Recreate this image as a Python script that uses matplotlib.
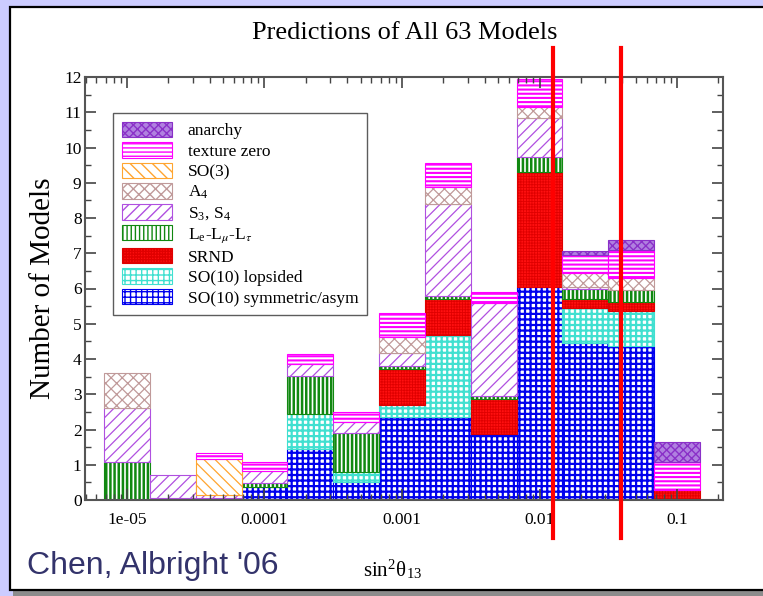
import numpy as np
import matplotlib
matplotlib.use('Agg')
import matplotlib.pyplot as plt
from matplotlib.patches import Rectangle
from matplotlib.ticker import LogLocator, NullFormatter, FixedFormatter, FixedLocator, MultipleLocator

plt.rcParams['font.family'] = ['Liberation Serif', 'DejaVu Serif']
plt.rcParams['mathtext.fontset'] = 'stix'

# bin centres of the sin^2(theta13) histogram (1/3 decade bins)
bin_centers = [1.0e-5, 2.15e-5, 4.64e-5, 1.0e-4, 2.15e-4, 4.64e-4, 1.0e-3,
               2.15e-3, 4.64e-3, 1.0e-2, 2.15e-2, 4.64e-2, 1.0e-1]

# number of models per bin, stacked bottom -> top
so10_sym = [0, 0, 0, 0.37, 1.45, 0.50, 2.36, 2.36, 1.87, 6.04, 4.45, 4.37, 0]
so10_lop = [0, 0, 0, 0, 0.99, 0.30, 0.34, 2.32, 0, 0, 1.00, 1.00, 0]
srnd     = [0, 0, 0, 0, 0, 0, 1.01, 1.02, 0.99, 3.26, 0.25, 0.25, 0.28]
lmu      = [1.08, 0.07, 0.05, 0.11, 1.09, 1.10, 0.09, 0.09, 0.09, 0.44, 0.30, 0.34, 0]
s3s4     = [1.53, 0.64, 0.10, 0.34, 0.33, 0.32, 0.36, 2.61, 2.64, 1.10, 0.04, 0, 0]
a4       = [1.00, 0, 0, 0, 0, 0, 0.47, 0.49, 0, 0.30, 0.40, 0.34, 0]
so3      = [0, 0, 1.02, 0, 0, 0, 0, 0, 0, 0, 0, 0, 0]
texture  = [0, 0, 0.16, 0.26, 0.28, 0.28, 0.67, 0.66, 0.31, 0.80, 0.50, 0.79, 0.80]
anarchy  = [0, 0, 0, 0, 0, 0, 0, 0, 0, 0, 0.13, 0.29, 0.57]

labels = ['SO(10) symmetric/asym', 'SO(10) lopsided', 'SRND',
          r'L$_\mathregular{e}$-L$_\mu$-L$_\tau$', r'S$_\mathregular{3}$, S$_\mathregular{4}$',
          r'A$_\mathregular{4}$', 'SO(3)', 'texture zero', 'anarchy']
series = [so10_sym, so10_lop, srnd, lmu, s3s4, a4, so3, texture, anarchy]

# face, hatch colour, hatch, hatch linewidth
styles = [('white', '#0000ee', '+++', 1.6),
          ('white', '#40e0d0', '+++', 1.6),
          ('#ff1010', '#e00000', '++++++', 0.6),
          ('white', '#118811', '||||', 1.8),
          ('white', '#b050e0', '///', 0.9),
          ('white', '#c09a9a', 'xxx', 0.9),
          ('white', '#ffa530', '\\\\\\', 0.9),
          ('white', '#ff00ff', '----', 1.5),
          ('#b080e0', '#8a30c8', 'xxxx', 1.0)]

xticks = [1e-5, 1e-4, 1e-3, 1e-2, 1e-1]
xtick_labels = ['1e-05', '0.0001', '0.001', '0.01', '0.1']
red_lines = [0.0125, 0.039]

fig = plt.figure(figsize=(7.63, 5.96), dpi=100)
fig.patch.set_facecolor('#ccccff')

# white slide panel with shadow
fig.patches.append(Rectangle((13/763, 0), 1, 7/596, transform=fig.transFigure,
                             facecolor='#8c8c8c', edgecolor='none', zorder=-10))
fig.patches.append(Rectangle((10/763, 6/596), 1.1, 583/596, transform=fig.transFigure,
                             facecolor='white', edgecolor='black', linewidth=1.6, zorder=-9))

ax = fig.add_axes([85/763, 96/596, 638/763, 423/596])
ax.set_facecolor('none')

c = np.array(bin_centers)
left = c / 10**(1/6)
right = c * 10**(1/6)
bottom = np.zeros(len(c))
handles = []
for vals, lab, (fc, hc, ht, hlw) in zip(series, labels, styles):
    v = np.array(vals, dtype=float)
    m = v > 0
    with plt.rc_context({'hatch.linewidth': hlw}):
        bars = ax.bar(left[m], v[m], width=(right - left)[m], bottom=bottom[m], align='edge',
                      facecolor=fc, edgecolor=hc, hatch=ht, linewidth=0.8, label=lab)
    for b in bars:
        if hasattr(b, 'set_hatch_linewidth'):
            b.set_hatch_linewidth(hlw)
    handles.append(bars)
    bottom = bottom + v

ax.set_xscale('log')
ax.set_xlim(4.95e-6, 0.216)
ax.set_ylim(0, 12)
ax.xaxis.set_major_locator(FixedLocator(xticks))
ax.xaxis.set_major_formatter(FixedFormatter(xtick_labels))
ax.xaxis.set_minor_locator(LogLocator(base=10, subs=np.arange(2, 10), numticks=20))
ax.xaxis.set_minor_formatter(NullFormatter())
ax.yaxis.set_major_locator(MultipleLocator(1))
ax.yaxis.set_minor_locator(MultipleLocator(0.5))
ax.tick_params(which='both', direction='in', top=True, right=True, color='#444444', labelsize=12.5)
ax.tick_params(which='major', length=8, width=1.2)
ax.tick_params(which='minor', length=4, width=1.0)
ax.tick_params(axis='x', pad=9)
ax.tick_params(axis='y', pad=2.5)
for s in ax.spines.values():
    s.set_color('#555555')
    s.set_linewidth(1.5)

ax.set_ylabel('Number of Models', fontsize=21)
ax.yaxis.set_label_coords(-0.045, 0.5)

leg = ax.legend(handles[::-1], labels[::-1], loc='upper left', bbox_to_anchor=(28/638, 1 - 36/423),
                fontsize=12.5, frameon=True, fancybox=False, edgecolor='#333333',
                handlelength=2.9, handleheight=1.0, labelspacing=0.16, handletextpad=0.9,
                borderpad=0.5, borderaxespad=0)
leg.get_frame().set_linewidth(1.0)

for xv in red_lines:
    ax.plot([xv, xv], [1.069, -0.09], transform=ax.get_xaxis_transform(), color='#ff0000',
            linewidth=3, clip_on=False, zorder=10)

fig.text(405/763, 1 - 33/596, 'Predictions of All 63 Models', ha='center', va='center', fontsize=19)
fig.text(393/763, 1 - 570/596, r'sin$^\mathregular{2}$θ$_\mathregular{13}$', ha='center', va='center', fontsize=15)
fig.text(27/763, 1 - 566/596, "Chen, Albright '06", ha='left', va='center', fontsize=23,
         color='#33336b', family=['Liberation Sans', 'DejaVu Sans'])

fig.savefig('out.png', dpi=100, facecolor=fig.get_facecolor())
